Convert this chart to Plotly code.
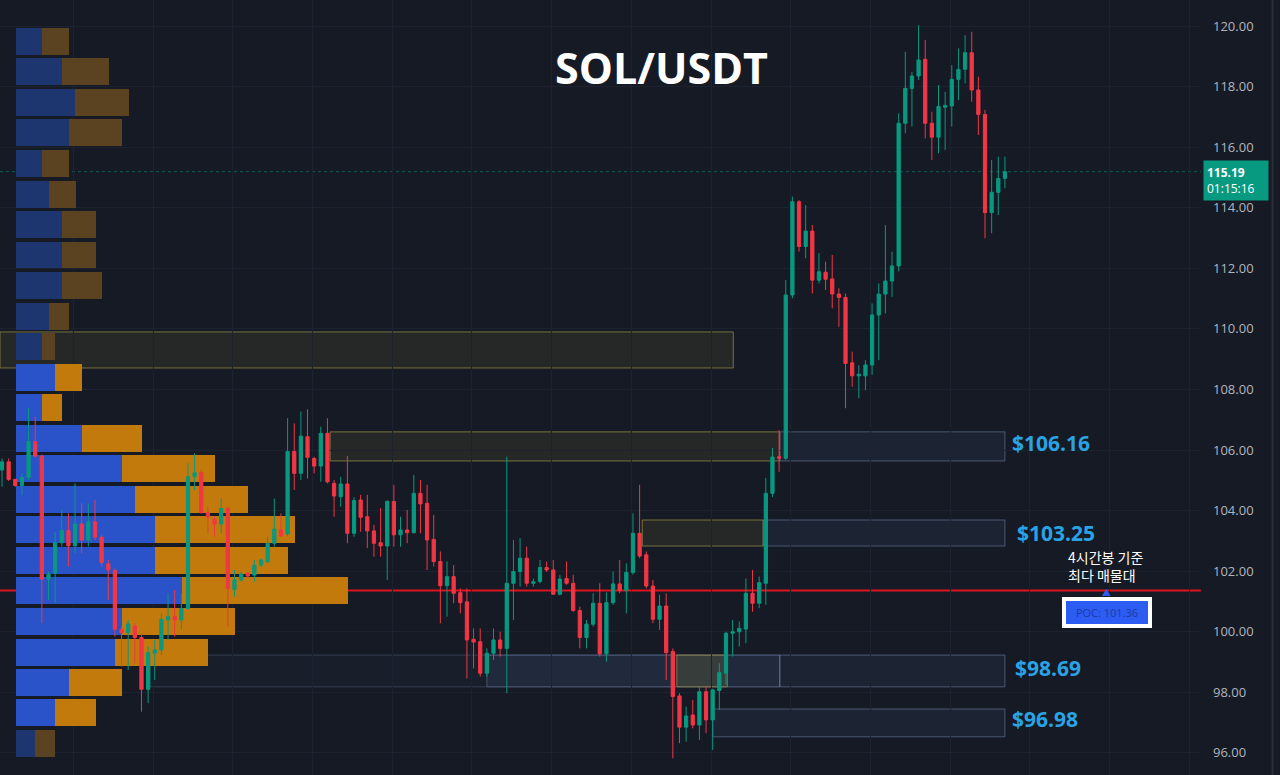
import plotly.graph_objects as go

# ---------------- candle data (4h candles, SOL/USDT) ----------------
opens = [105.34, 105.61, 105.03, 104.83, 105.10, 106.28, 105.80, 101.74, 101.93, 102.94,
         103.34, 102.84, 103.56, 103.03, 103.63, 103.12, 102.24, 102.02, 100.08, 99.97,
         100.19, 99.81, 98.10, 99.29, 99.40, 100.39, 100.50, 100.39, 100.77, 105.12,
         105.25, 103.93, 103.71, 103.56, 104.07, 101.40, 101.71, 101.93, 101.87, 102.20,
         102.31, 102.92, 103.36, 103.23, 105.95, 105.23, 106.44, 105.72, 105.47, 106.55,
         104.90, 104.46, 104.88, 103.25, 104.35, 103.80, 103.33, 102.94, 102.83, 104.30,
         103.20, 103.36, 103.27, 104.57, 104.24, 103.05, 102.32, 101.52, 101.82, 101.29,
         100.99, 99.75, 99.67, 98.63, 99.29, 99.73, 99.45, 101.60, 101.99, 102.43,
         101.60, 101.66, 102.12, 102.04, 101.24, 101.76, 101.60, 100.70, 99.81, 100.25,
         100.94, 99.27, 100.96, 101.58, 101.36, 101.96, 103.25, 102.54, 101.51, 100.41,
         100.85, 99.35, 97.88, 96.85, 97.25, 96.92, 98.02, 97.09, 98.06, 98.63,
         99.95, 100.00, 100.09, 101.27, 100.94, 101.60, 104.57, 105.78, 105.73, 111.12,
         114.20, 112.72, 113.23, 111.61, 111.87, 111.65, 111.15, 111.04, 108.88, 108.45,
         108.45, 108.81, 110.46, 111.15, 111.58, 112.08, 116.79, 117.94, 118.35, 118.90,
         116.79, 116.33, 117.32, 117.36, 118.24, 118.57, 119.12, 117.89, 117.08, 113.84,
         114.51, 114.97]
highs = [105.72, 105.72, 105.05, 105.23, 107.38, 107.10, 105.85, 101.98, 103.30, 104.02,
         103.91, 104.90, 104.24, 104.24, 104.35, 103.20, 102.37, 102.09, 100.17, 100.39,
         100.28, 99.95, 99.51, 99.73, 100.61, 101.27, 101.38, 101.27, 105.56, 105.89,
         105.34, 104.13, 103.80, 104.40, 104.13, 102.04, 101.98, 101.98, 102.37, 102.42,
         103.14, 104.40, 103.91, 107.05, 106.88, 107.27, 107.34, 105.78, 106.77, 107.05,
         105.01, 105.12, 105.80, 104.45, 104.52, 104.52, 103.53, 104.08, 104.35, 104.85,
         103.80, 104.02, 105.18, 105.01, 104.85, 103.86, 102.65, 102.32, 102.20, 101.43,
         101.43, 100.11, 100.11, 99.45, 100.11, 100.00, 105.78, 103.03, 103.09, 102.81,
         101.76, 102.37, 102.32, 102.37, 101.88, 102.32, 101.88, 100.83, 100.39, 101.27,
         101.60, 101.30, 101.99, 102.37, 102.26, 103.91, 104.85, 102.65, 101.71, 101.22,
         101.27, 99.45, 97.97, 97.53, 97.75, 98.19, 98.19, 98.12, 98.96, 100.00,
         100.39, 100.34, 101.76, 102.04, 101.82, 105.08, 106.07, 106.66, 111.61, 114.37,
         114.25, 114.09, 113.43, 112.50, 112.22, 112.44, 111.34, 111.17, 109.25, 108.80,
         108.97, 110.84, 111.50, 113.43, 112.55, 117.12, 119.15, 118.49, 120.03, 119.54,
         117.17, 118.05, 117.83, 118.71, 119.26, 119.70, 119.81, 118.33, 117.23, 115.58,
         115.69, 115.69]
lows = [104.79, 104.98, 104.79, 104.51, 105.01, 105.78, 100.28, 101.05, 100.94, 102.81,
        102.15, 102.59, 102.59, 102.81, 103.03, 102.15, 101.05, 99.84, 98.85, 98.74,
        98.96, 97.36, 97.64, 98.41, 99.23, 99.73, 99.84, 100.06, 100.72, 104.68,
        103.91, 103.25, 103.14, 103.25, 100.17, 101.16, 101.65, 101.76, 101.65, 102.15,
        102.26, 102.81, 103.14, 103.14, 104.68, 105.01, 105.06, 105.23, 104.95, 104.90,
        103.80, 104.13, 102.92, 103.14, 103.30, 102.76, 102.48, 102.48, 101.71, 102.81,
        102.81, 102.92, 103.25, 103.25, 102.04, 102.15, 100.28, 100.50, 100.94, 100.61,
        98.46, 98.79, 98.52, 98.52, 99.07, 99.18, 97.97, 100.39, 101.49, 101.49,
        101.49, 101.60, 101.98, 101.22, 101.20, 101.55, 100.66, 99.45, 99.45, 100.17,
        99.18, 99.01, 100.89, 101.27, 100.61, 101.88, 102.43, 101.43, 100.28, 100.06,
        98.41, 95.82, 96.32, 96.37, 96.81, 96.43, 96.65, 96.10, 97.42, 98.25,
        99.18, 99.51, 99.62, 100.66, 100.78, 100.89, 104.45, 105.28, 105.67, 111.01,
        112.55, 112.33, 111.17, 111.50, 111.28, 110.68, 110.07, 107.38, 108.09, 107.71,
        107.98, 108.48, 108.97, 110.51, 111.06, 111.90, 116.46, 116.68, 118.22, 116.29,
        115.58, 115.80, 115.91, 116.68, 117.56, 118.11, 117.50, 116.40, 112.99, 113.16,
        113.76, 114.64]
closes = [105.61, 105.03, 104.83, 105.10, 106.28, 105.80, 101.74, 101.90, 102.94, 103.34,
          102.84, 103.56, 103.03, 103.63, 103.12, 102.28, 102.04, 100.08, 99.97, 100.26,
          99.81, 98.10, 99.31, 99.40, 100.41, 100.50, 100.39, 100.77, 105.12, 105.25,
          103.93, 103.78, 103.56, 104.07, 101.43, 101.71, 101.91, 101.84, 102.20, 102.37,
          102.92, 103.39, 103.16, 105.95, 105.23, 106.46, 105.76, 105.47, 106.55, 104.95,
          104.48, 104.88, 103.25, 104.33, 103.78, 103.33, 102.92, 102.83, 104.30, 103.20,
          103.36, 103.27, 104.57, 104.22, 103.03, 102.32, 101.52, 101.82, 101.27, 100.96,
          99.73, 99.66, 98.63, 99.29, 99.73, 99.45, 101.60, 101.99, 102.43, 101.60,
          101.65, 102.12, 102.04, 101.24, 101.74, 101.60, 100.70, 99.81, 100.25, 100.94,
          99.27, 100.96, 101.58, 101.36, 101.96, 103.25, 102.50, 101.51, 100.41, 100.85,
          99.31, 97.86, 96.85, 97.22, 96.92, 98.02, 97.09, 98.08, 98.65, 99.95,
          100.00, 100.11, 101.27, 100.94, 101.62, 104.57, 105.77, 105.73, 111.12, 114.20,
          112.72, 113.23, 111.61, 111.89, 111.64, 111.15, 111.04, 108.86, 108.45, 108.50,
          108.81, 110.46, 111.15, 111.58, 112.08, 116.79, 117.94, 118.35, 118.88, 116.79,
          116.33, 117.34, 117.38, 118.24, 118.57, 119.12, 117.89, 117.08, 113.84, 114.51,
          114.97, 115.19]
candle_idx = list(range(len(opens)))

# ---------------- volume profile (rows, bottom -> top) ----------------
vp_price = [96.31, 97.32, 98.33, 99.33, 100.34, 101.35, 102.36, 103.37, 104.37, 105.38,
            106.39, 107.40, 108.41, 109.41, 110.42, 111.43, 112.44, 113.45, 114.45, 115.46,
            116.47, 117.48, 118.49, 119.49]
vp_buy = [19, 39, 53, 99, 106, 166, 139, 139, 119, 106,
          66, 26, 39, 26, 33, 46, 46, 46, 33, 26,
          53, 59, 46, 26]
vp_sell = [20, 41, 53, 93, 113, 166, 133, 140, 113, 93,
           60, 20, 27, 13, 20, 40, 34, 34, 27, 27,
           53, 54, 47, 27]
value_area_low, value_area_high = 97.0, 109.0
poc_price = 101.36
last_price = 115.19
countdown = "01:15:16"

# ---------------- key zones ----------------
zone_labels = ["$106.16", "$103.25", "$98.69", "$96.98"]
zone_low = [105.64, 102.83, 98.18, 96.53]
zone_high = [106.60, 103.69, 99.23, 97.45]
upper_zone = (108.71, 109.90)

BG = "#151a25"
GRID = "#1d2230"
UP = "#089981"
DOWN = "#f23645"
LABEL_BLUE = "#2aa3e4"

fig = go.Figure()

in_va = [value_area_low < p < value_area_high for p in vp_price]
blue_cols = ["#2a52c9" if v else "#1e3670" for v in in_va]
orange_cols = ["#c27a0c" if v else "#5b4321" for v in in_va]

fig.add_trace(go.Bar(y=vp_price, x=vp_buy, orientation="h", width=0.89,
                     marker=dict(color=blue_cols, line=dict(width=0)),
                     xaxis="x", yaxis="y", hoverinfo="skip", showlegend=False))
fig.add_trace(go.Bar(y=vp_price, x=vp_sell, base=vp_buy, orientation="h", width=0.89,
                     marker=dict(color=orange_cols, line=dict(width=0)),
                     xaxis="x", yaxis="y", hoverinfo="skip", showlegend=False))

fig.add_trace(go.Candlestick(
    x=candle_idx, open=opens, high=highs, low=lows, close=closes,
    xaxis="x2", yaxis="y",
    increasing=dict(line=dict(color=UP, width=1), fillcolor=UP),
    decreasing=dict(line=dict(color=DOWN, width=1), fillcolor=DOWN),
    whiskerwidth=0, hoverinfo="skip", showlegend=False))

shapes = []
OLIVE_FILL = "rgba(135,130,55,0.14)"
OLIVE_LINE = "rgba(150,140,70,0.75)"
GREY_FILL = "rgba(80,100,140,0.13)"
GREY_LINE = "rgba(110,125,160,0.6)"
n_last = candle_idx[-1]


def rect(x0, x1, y0, y1, fill, line, lw=1):
    shapes.append(dict(type="rect", xref="x2", yref="y", x0=x0, x1=x1, y0=y0, y1=y1,
                       fillcolor=fill, line=dict(color=line, width=lw), layer="below"))


# upper olive zone
rect(-0.3, 110.1, upper_zone[0], upper_zone[1], OLIVE_FILL, OLIVE_LINE)
# $106.16
rect(49.4, 117.1, zone_low[0], zone_high[0], OLIVE_FILL, OLIVE_LINE)
rect(117.1, n_last, zone_low[0], zone_high[0], GREY_FILL, GREY_LINE)
# $103.25
rect(96.4, 114.6, zone_low[1], zone_high[1], OLIVE_FILL, OLIVE_LINE)
rect(114.6, n_last, zone_low[1], zone_high[1], GREY_FILL, GREY_LINE)
# $98.69
rect(22.3, 117.1, zone_low[2], zone_high[2], "rgba(80,100,140,0.06)", "rgba(110,125,160,0.35)")
rect(73.0, 117.1, zone_low[2], zone_high[2], "rgba(80,105,160,0.16)", "rgba(110,125,160,0.5)")
rect(101.6, 109.2, zone_low[2], zone_high[2], "rgba(135,130,55,0.22)", OLIVE_LINE)
rect(117.1, n_last, zone_low[2], zone_high[2], GREY_FILL, GREY_LINE)
# $96.98
rect(107.0, n_last, zone_low[3], zone_high[3], GREY_FILL, GREY_LINE)

# current price dotted line
shapes.append(dict(type="line", xref="paper", yref="y", x0=0, x1=1, y0=last_price, y1=last_price,
                   line=dict(color="rgba(8,153,129,0.55)", width=1, dash="dot"), layer="below"))
# POC line
shapes.append(dict(type="line", xref="x2", yref="y", x0=-0.3, x1=180.5, y0=poc_price, y1=poc_price,
                   line=dict(color="#dc1420", width=2), layer="below"))
# small marker above POC label
shapes.append(dict(type="path", xref="x2", yref="y",
                   path="M 165.6 101.18 L 166.9 101.18 L 166.25 101.42 Z",
                   fillcolor="#2d5cf2", line=dict(width=0), layer="above"))
# right edge separator
shapes.append(dict(type="line", xref="paper", yref="paper", x0=1.0595, x1=1.0595, y0=0, y1=1,
                   line=dict(color="#2a2e39", width=2)))

annotations = [
    dict(text="<b>SOL/USDT</b>", xref="paper", yref="paper", x=0.5504, y=0.913,
         xanchor="center", yanchor="middle", showarrow=False,
         font=dict(family="Open Sans", size=43, color="#ffffff")),
]
label_x = [1010, 1015, 1013, 1010]
label_y = [106.23, 103.26, 98.81, 97.12]
for t, lx, ly in zip(zone_labels, label_x, label_y):
    annotations.append(dict(text=f"<b>{t}</b>", xref="paper", yref="y", x=lx / 1201, y=ly,
                            xanchor="left", yanchor="middle", showarrow=False,
                            font=dict(family="Open Sans", size=21, color=LABEL_BLUE)))
annotations.append(dict(text="4시간봉 기준<br>최다 매물대", xref="paper", yref="y",
                        x=1066 / 1201, y=102.17, xanchor="left", yanchor="middle", align="left",
                        showarrow=False,
                        font=dict(family="Noto Sans CJK KR", size=14, color="#ffffff")))
annotations.append(dict(text=f"POC: {poc_price:.2f}", xref="paper", yref="y",
                        x=1107 / 1201, y=100.65, xanchor="center", yanchor="middle",
                        showarrow=False, bgcolor="#2d5cf2", bordercolor="#ffffff",
                        borderwidth=4, borderpad=4, width=74,
                        font=dict(family="Open Sans", size=11, color="#1c3aa8")))
annotations.append(dict(text=f"<b>{last_price:.2f}</b><br>{countdown}", xref="paper", yref="y",
                        x=1203 / 1201, y=114.90, xanchor="left", yanchor="middle", align="left",
                        showarrow=False, bgcolor=UP, borderpad=3, width=58,
                        font=dict(family="Open Sans", size=12, color="#ffffff")))

fig.update_layout(
    width=1280, height=775,
    margin=dict(l=0, r=79, t=0, b=0),
    paper_bgcolor=BG, plot_bgcolor=BG,
    barmode="overlay", bargap=0,
    showlegend=False, hovermode=False,
    xaxis=dict(range=[-16, 1185], visible=False, fixedrange=True),
    xaxis2=dict(overlaying="x", range=[-0.301, 180.52], showgrid=True, gridcolor=GRID,
                gridwidth=1, tick0=10.76, dtick=12, showticklabels=False, ticks="",
                zeroline=False, showline=False, rangeslider=dict(visible=False)),
    yaxis=dict(side="right", range=[95.27, 120.86], tick0=0, dtick=2, tickformat=".2f",
               showgrid=True, gridcolor=GRID, zeroline=False, showline=False, ticks="",
               ticklabelstandoff=11,
               tickfont=dict(family="Open Sans", size=13, color="#b2b5be")),
    shapes=shapes, annotations=annotations,
)

fig.write_html("out.html", config={"displayModeBar": False},
               post_script="document.body.style.margin='0';document.body.style.background='#151a25';")
